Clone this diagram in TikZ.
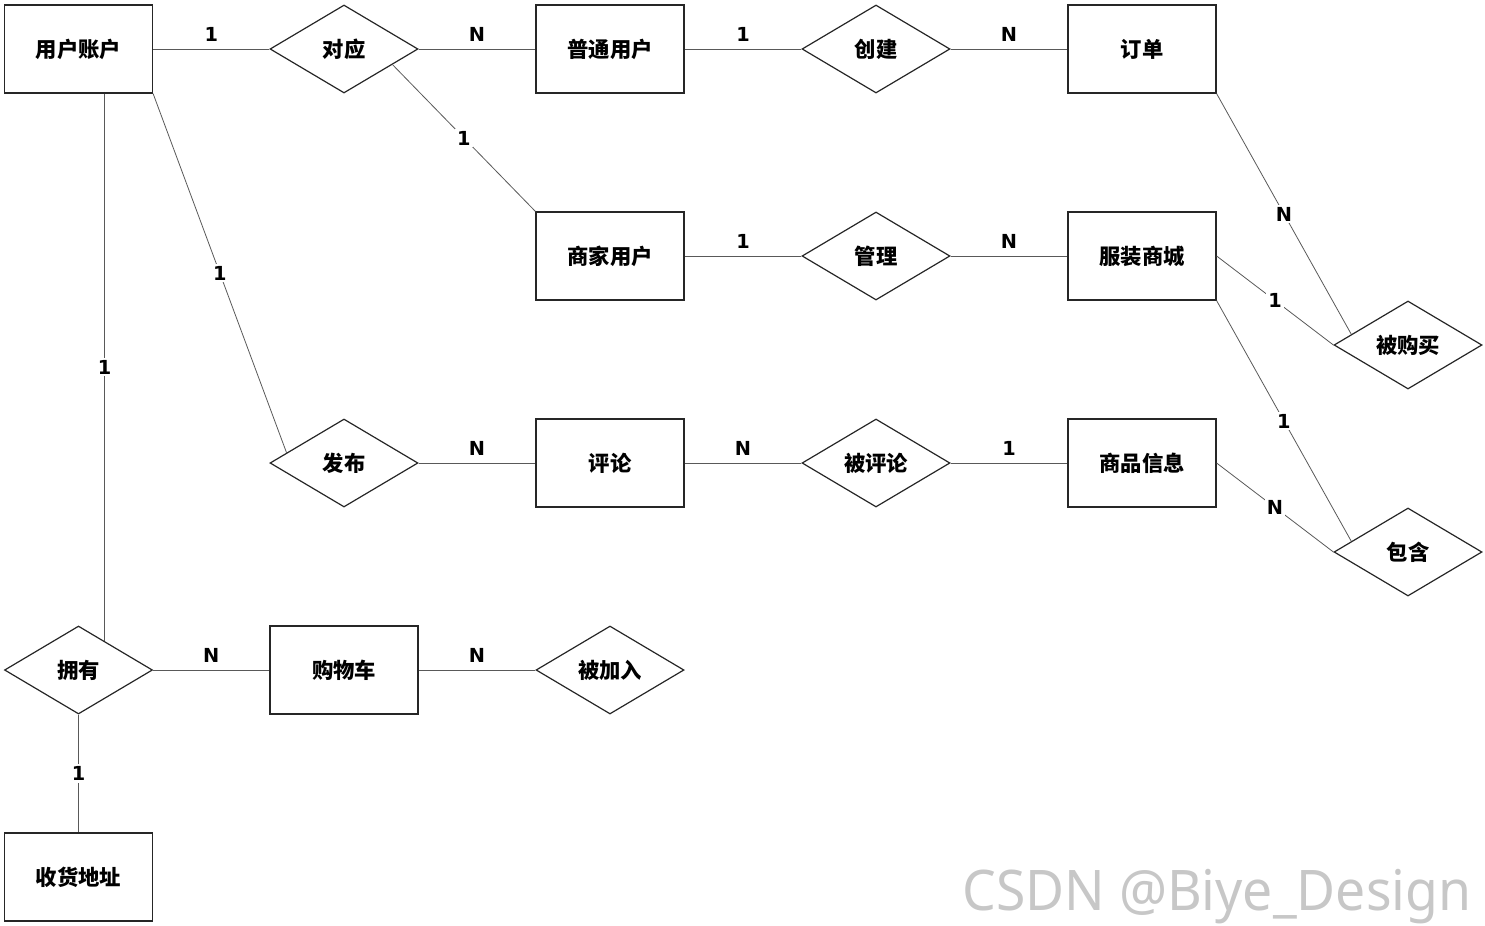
\documentclass[tikz,border=0pt]{standalone}
\usepackage{fontspec}
\usetikzlibrary{shapes.geometric,calc}
\newfontfamily\cjk{Noto Sans CJK SC}
\newfontfamily\lblfont{DejaVu Sans}
\newfontfamily\wmfont{Noto Sans}
\tikzset{
  entity/.style={draw=black!85,line width=0.9pt,rectangle,minimum width=111pt,minimum height=66pt,inner sep=0pt,font=\cjk\bfseries\fontsize{16}{19}\selectfont},
  rel/.style={draw=black!85,line width=0.9pt,diamond,aspect=1.68,minimum width=111pt,minimum height=66pt,inner sep=0pt,font=\cjk\bfseries\fontsize{16}{19}\selectfont},
  conn/.style={draw=black!65,line width=0.6pt},
  card/.style={font=\lblfont\bfseries\fontsize{14.5}{17}\selectfont,inner sep=1.5pt},
  cardh/.style={card,above=3.6pt},
  cardd/.style={card,fill=white}
}
\begin{document}
\begin{tikzpicture}[x=0.75pt,y=-0.75pt]
\useasboundingbox (0,0) rectangle (1485,925);
% entities
\node[entity] (yh) at (78.5,49) {用户账户};
\node[entity] (pt) at (610,49) {普通用户};
\node[entity] (dd) at (1142,49) {订单};
\node[entity] (sj) at (610,256) {商家用户};
\node[entity] (fz) at (1142,256) {服装商城};
\node[entity] (pl) at (610,463) {评论};
\node[entity] (sp) at (1142,463) {商品信息};
\node[entity] (gw) at (344,670) {购物车};
\node[entity] (sh) at (78.5,877) {收货地址};
% relations
\node[rel] (dy) at (344,49) {对应};
\node[rel] (cj) at (876,49) {创建};
\node[rel] (gl) at (876,256) {管理};
\node[rel] (fb) at (344,463) {发布};
\node[rel] (bp) at (876,463) {被评论};
\node[rel] (bg) at (1408,345) {被购买};
\node[rel] (bh) at (1408,552) {包含};
\node[rel] (yy) at (78.5,670) {拥有};
\node[rel] (bj) at (610,670) {被加入};
% helper points on diamond borders
\coordinate (dyp) at ($(dy.east)!0.35!(dy.south)$);
\coordinate (fbp) at ($(fb.west)!0.23!(fb.north)$);
\coordinate (bgp) at ($(bg.west)!0.24!(bg.north)$);
\coordinate (bhp) at ($(bh.west)!0.24!(bh.north)$);
\coordinate (yyp) at ($(yy.north)!0.35!(yy.east)$);
% horizontal connectors
\draw[conn] (yh.east) -- node[cardh] {1} (dy.west);
\draw[conn] (dy.east) -- node[cardh] {N} (pt.west);
\draw[conn] (pt.east) -- node[cardh] {1} (cj.west);
\draw[conn] (cj.east) -- node[cardh] {N} (dd.west);
\draw[conn] (sj.east) -- node[cardh] {1} (gl.west);
\draw[conn] (gl.east) -- node[cardh] {N} (fz.west);
\draw[conn] (fb.east) -- node[cardh] {N} (pl.west);
\draw[conn] (pl.east) -- node[cardh] {N} (bp.west);
\draw[conn] (bp.east) -- node[cardh] {1} (sp.west);
\draw[conn] (yy.east) -- node[cardh] {N} (gw.west);
\draw[conn] (gw.east) -- node[cardh] {N} (bj.west);
% diagonal and vertical connectors
\draw[conn] (dyp) -- node[cardd] {1} (sj.north west);
\draw[conn] (yh.south east) -- node[cardd] {1} (fbp);
\draw[conn] (yh.south -| yyp) -- node[cardd] {1} (yyp);
\draw[conn] (yy.south) -- node[cardd] {1} (sh.north);
\draw[conn] (dd.south east) -- node[cardd] {N} (bgp);
\draw[conn] (fz.east) -- node[cardd] {1} (bg.west);
\draw[conn] (fz.south east) -- node[cardd] {1} (bhp);
\draw[conn] (sp.east) -- node[cardd] {N} (bh.west);
% watermark
\node[anchor=base west,inner sep=0pt,xscale=0.955,text=black!22,font=\wmfont\fontsize{42}{50}\selectfont] (wm) at (962,910) {CSDN @Biye\_Design};
\end{tikzpicture}
\end{document}
